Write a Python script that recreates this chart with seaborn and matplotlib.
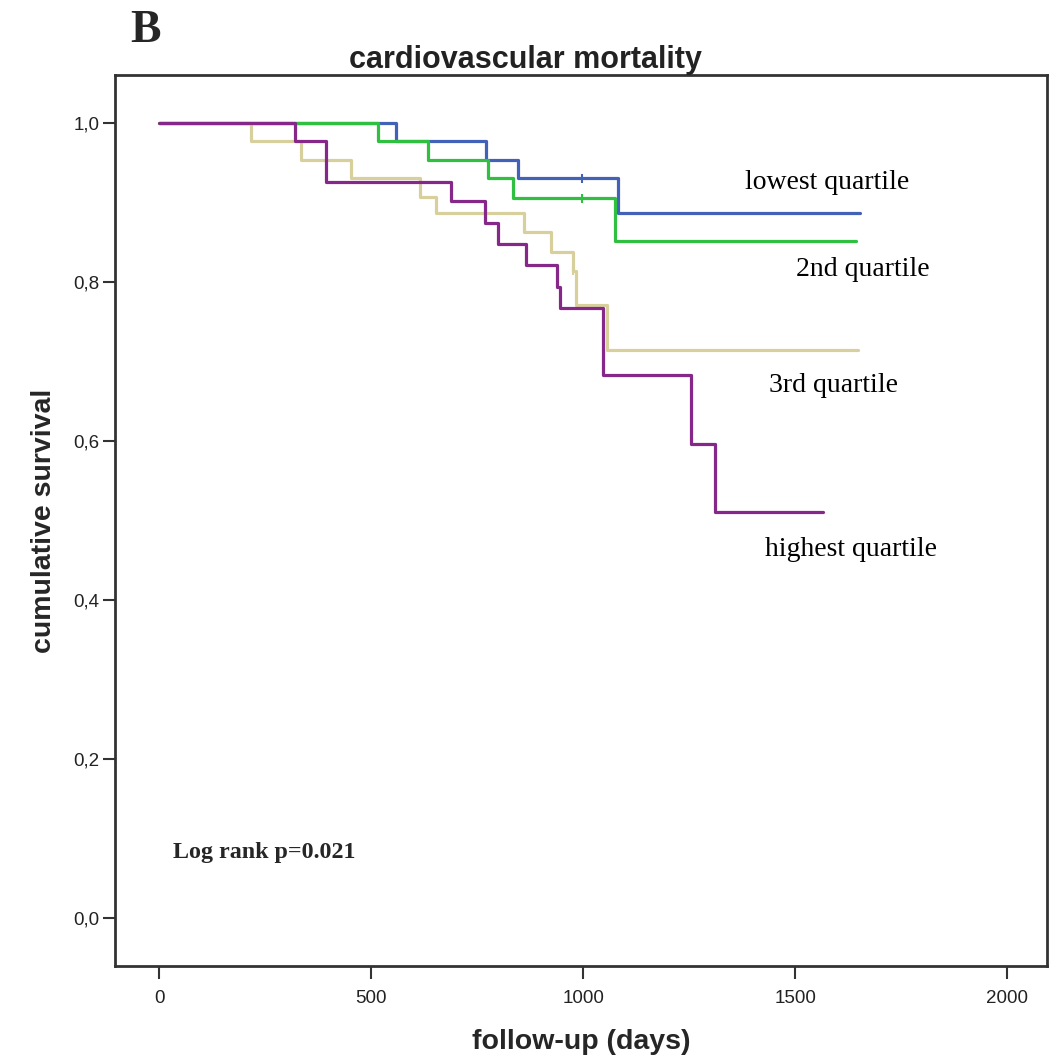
import numpy as np
import pandas as pd
import matplotlib
matplotlib.use("Agg")
import matplotlib.pyplot as plt
import seaborn as sns

# Kaplan-Meier step points (days, cumulative survival) for each quartile
t_lowest = [0, 559, 771, 845, 1081, 1653]
s_lowest = [1.0, 0.9765, 0.953, 0.930, 0.886, 0.886]

t_second = [0, 515, 633, 775, 834, 1074, 1643]
s_second = [1.0, 0.9765, 0.953, 0.930, 0.905, 0.851, 0.851]

t_third = [0, 216, 335, 453, 615, 653, 860, 925, 975, 982, 1055, 1648]
s_third = [1.0, 0.9765, 0.953, 0.931, 0.907, 0.886, 0.863, 0.838, 0.814, 0.771, 0.714, 0.714]

t_highest = [0, 319, 394, 689, 767, 799, 866, 938, 945, 1047, 1253, 1311, 1566]
s_highest = [1.0, 0.9765, 0.926, 0.901, 0.874, 0.847, 0.821, 0.794, 0.767, 0.683, 0.596, 0.511, 0.511]

# censored observations
cens_t = [996, 996, 975]
cens_s = [0.930, 0.905, 0.814]
cens_group = ["lowest quartile", "2nd quartile", "3rd quartile"]

groups = ["lowest quartile", "2nd quartile", "3rd quartile", "highest quartile"]
colors = ["#4262B8", "#2FBF41", "#D8D09C", "#86288A"]

y_ticks = [0.0, 0.2, 0.4, 0.6, 0.8, 1.0]
y_ticklabels = ["0,0", "0,2", "0,4", "0,6", "0,8", "1,0"]
x_ticks = [0, 500, 1000, 1500, 2000]

# label positions beside the curves
label_x = [1575, 1660, 1591, 1632]
label_y = [0.9245, 0.815, 0.670, 0.464]

frames = []
for g, t, s in zip(groups,
                   [t_lowest, t_second, t_third, t_highest],
                   [s_lowest, s_second, s_third, s_highest]):
    frames.append(pd.DataFrame({"days": t, "survival": s, "group": g}))
df = pd.concat(frames, ignore_index=True)
cens = pd.DataFrame({"days": cens_t, "survival": cens_s, "group": cens_group})

sns.set_style("white")
plt.rcParams["font.family"] = ["Liberation Sans", "DejaVu Sans"]

fig = plt.figure(figsize=(10.64, 10.57), dpi=100)
ax = fig.add_axes([0.108, 0.0861, 0.876, 0.843])

palette = dict(zip(groups, colors))
sns.lineplot(data=df, x="days", y="survival", hue="group", hue_order=groups,
             palette=palette, drawstyle="steps-post", estimator=None,
             sort=False, linewidth=2.3, legend=False, ax=ax)
sns.scatterplot(data=cens, x="days", y="survival", hue="group", palette=palette,
                marker="|", s=40, linewidth=1.5, legend=False, ax=ax)

ax.set_xlim(-105, 2094)
ax.set_ylim(-0.060, 1.060)
ax.set_xticks(x_ticks)
ax.set_xticklabels([str(v) for v in x_ticks])
ax.set_yticks(y_ticks)
ax.set_yticklabels(y_ticklabels)
ax.tick_params(axis="both", which="major", direction="out", bottom=True,
               left=True, length=9, width=1.5, color="#333333",
               labelsize=13.5, labelcolor="#222222")
ax.tick_params(axis="x", pad=8)
ax.tick_params(axis="y", pad=2)

for side in ["left", "right", "top", "bottom"]:
    ax.spines[side].set_visible(True)
    ax.spines[side].set_color("#333333")
    ax.spines[side].set_linewidth(2.0)

label_font = ["Liberation Sans", "DejaVu Sans"]
ax.set_xlabel("follow-up (days)", fontsize=20.5, fontweight="bold", labelpad=16,
              family=label_font)
ax.set_ylabel("cumulative survival", fontsize=20.5, fontweight="bold", labelpad=12,
              family=label_font)
fig.text(0.4934, 0.943, "cardiovascular mortality", ha="center", va="center",
         fontsize=22, fontweight="bold", family=label_font, color="#222222")

for g, lx, ly in zip(groups, label_x, label_y):
    ax.text(lx, ly, g, ha="center", va="center", fontsize=20,
            family=["Liberation Serif", "DejaVu Serif"], color="black")

ax.text(31, 0.083, "Log rank p=0.021", ha="left", va="center", fontsize=17.3,
        fontweight="bold", family=["Liberation Serif", "DejaVu Serif"])

fig.text(0.122, 0.971, "B", ha="left", va="center", fontsize=33,
         fontweight="bold", family=["Liberation Serif", "DejaVu Serif"])

fig.savefig("out.png", dpi=100)
